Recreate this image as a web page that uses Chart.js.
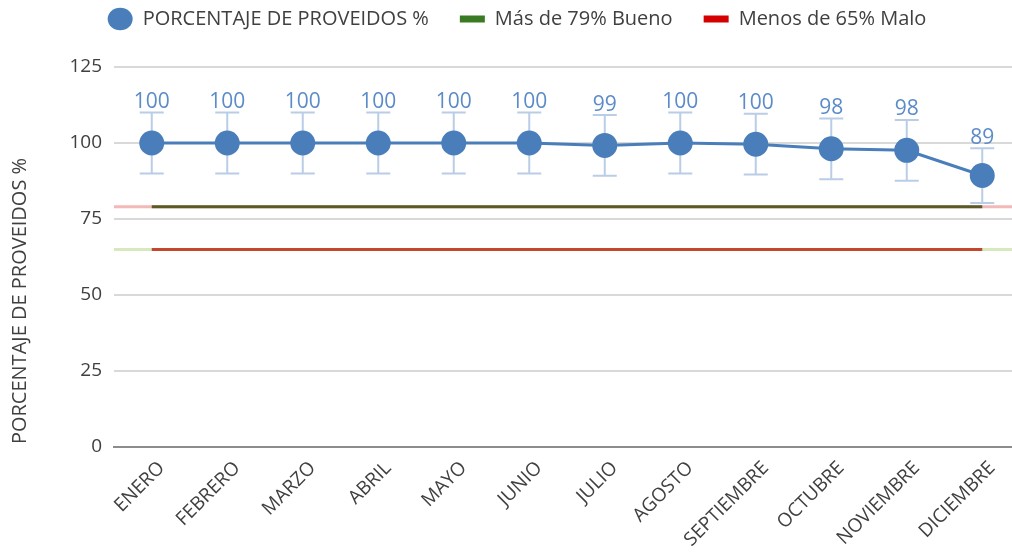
<!DOCTYPE html>
<html>
<head>
<meta charset="utf-8">
<script src="https://cdn.jsdelivr.net/npm/chart.js@4"></script>
<style>
  html, body { margin: 0; padding: 0; background: #fff; overflow: hidden; }
  canvas { display: block; }
</style>
</head>
<body>
<canvas id="chart" width="1034" height="556"></canvas>
<script>
// datos
const meses = ['ENERO', 'FEBRERO', 'MARZO', 'ABRIL', 'MAYO', 'JUNIO', 'JULIO', 'AGOSTO', 'SEPTIEMBRE', 'OCTUBRE', 'NOVIEMBRE', 'DICIEMBRE'];
const proveidos = [100, 100, 100, 100, 100, 100, 99.2, 100, 99.6, 98.1, 97.6, 89.3];
const errorMas = [10, 10, 10, 10, 10, 10, 10, 10, 10, 10, 10, 9];
const errorMenos = [10, 10, 10, 10, 10, 10, 10, 10, 10, 10, 10, 9];
const limiteBueno = 79;
const limiteMalo = 65;
const yTicks = [0, 25, 50, 75, 100, 125];

const FONT = "'Open Sans', 'Noto Sans', sans-serif";
const AZUL = '#4a7ebb';

// lineas tenues de limite a todo el ancho + barras de error + etiquetas
const fondoPlugin = {
  id: 'fondo',
  beforeInit(chart) {
    // mas espacio bajo la leyenda
    const fit = chart.legend.fit;
    chart.legend.fit = function () {
      fit.bind(chart.legend)();
      this.height += 28;
    };
  },
  beforeDatasetsDraw(chart) {
    const { ctx, chartArea, scales } = chart;
    const y = scales.y, x = scales.x;
    ctx.save();
    ctx.lineWidth = 3;
    ctx.strokeStyle = '#f3b9b9';
    ctx.beginPath();
    ctx.moveTo(chartArea.left, y.getPixelForValue(limiteBueno));
    ctx.lineTo(chartArea.right, y.getPixelForValue(limiteBueno));
    ctx.stroke();
    ctx.strokeStyle = '#d8e8bd';
    ctx.beginPath();
    ctx.moveTo(chartArea.left, y.getPixelForValue(limiteMalo));
    ctx.lineTo(chartArea.right, y.getPixelForValue(limiteMalo));
    ctx.stroke();

    // barras de error
    ctx.strokeStyle = '#b9cde6';
    ctx.lineWidth = 2;
    proveidos.forEach((v, i) => {
      const px = x.getPixelForValue(i);
      const top = y.getPixelForValue(v + errorMas[i]);
      const bot = y.getPixelForValue(v - errorMenos[i]);
      ctx.beginPath();
      ctx.moveTo(px, top); ctx.lineTo(px, bot);
      ctx.moveTo(px - 12, top); ctx.lineTo(px + 12, top);
      ctx.moveTo(px - 12, bot); ctx.lineTo(px + 12, bot);
      ctx.stroke();
    });
    ctx.restore();
  },
  afterDatasetsDraw(chart) {
    const { ctx, scales } = chart;
    ctx.save();
    ctx.font = '21px ' + FONT;
    ctx.fillStyle = '#5b8bc9';
    ctx.textAlign = 'center';
    ctx.textBaseline = 'bottom';
    proveidos.forEach((v, i) => {
      const px = scales.x.getPixelForValue(i);
      const top = scales.y.getPixelForValue(v + errorMas[i]);
      ctx.fillText(String(Math.round(v)), px, top);
    });
    // titulo eje y
    ctx.translate(20, 301);
    ctx.rotate(-Math.PI / 2);
    ctx.font = '20px ' + FONT;
    ctx.fillStyle = '#404040';
    ctx.textBaseline = 'middle';
    ctx.fillText('PORCENTAJE DE PROVEIDOS %', 0, 0);
    ctx.restore();
  }
};

new Chart(document.getElementById('chart'), {
  type: 'line',
  data: {
    labels: meses,
    datasets: [
      {
        label: 'PORCENTAJE DE PROVEIDOS %',
        data: proveidos,
        borderColor: AZUL,
        backgroundColor: AZUL,
        borderWidth: 3,
        pointRadius: 11,
        pointHoverRadius: 11,
        pointBackgroundColor: AZUL,
        pointBorderColor: AZUL,
        pointStyle: 'circle',
        order: 0
      },
      {
        label: 'Más de 79% Bueno',
        data: meses.map(() => limiteBueno),
        borderColor: '#5c5a24',
        backgroundColor: '#3a7a22',
        borderWidth: 3,
        pointRadius: 0,
        order: 1
      },
      {
        label: 'Menos de 65% Malo',
        data: meses.map(() => limiteMalo),
        borderColor: '#c3472c',
        backgroundColor: '#d40000',
        borderWidth: 3,
        pointRadius: 0,
        order: 2
      }
    ]
  },
  options: {
    responsive: false,
    animation: false,
    events: [],
    layout: { padding: { top: -22 } },
    plugins: {
      tooltip: { enabled: false },
      legend: {
        position: 'top',
        labels: {
          usePointStyle: true,
          pointStyleWidth: 25,
          boxHeight: 16,
          padding: 31,
          color: '#404040',
          font: { family: FONT, size: 20 },
          generateLabels(chart) {
            return chart.data.datasets.map((ds, i) => ({
              text: ds.label,
              fillStyle: ds.backgroundColor,
              strokeStyle: ds.backgroundColor,
              lineWidth: i === 0 ? 0 : 7,
              pointStyle: i === 0 ? 'circle' : 'line',
              fontColor: '#404040',
              datasetIndex: i,
              hidden: false
            }));
          }
        }
      }
    },
    scales: {
      x: {
        offset: true,
        grid: { display: false },
        border: { display: true, color: '#8c8c8c', width: 2 },
        afterFit(scale) { scale.height = 109; },
        ticks: {
          autoSkip: false,
          maxRotation: 45,
          minRotation: 45,
          padding: 2,
          labelOffset: 10,
          color: '#404040',
          font: { family: FONT, size: 19 }
        }
      },
      y: {
        min: 0,
        max: 125,
        afterFit(scale) { scale.width = 114; },
        afterBuildTicks(scale) { scale.ticks = yTicks.map(v => ({ value: v })); },
        border: { display: false },
        grid: { color: '#d9d9d9', lineWidth: 2, drawTicks: false },
        ticks: {
          padding: 12,
          color: '#404040',
          font: { family: FONT, size: 19 }
        }
      }
    }
  },
  plugins: [fondoPlugin]
});
</script>
</body>
</html>
